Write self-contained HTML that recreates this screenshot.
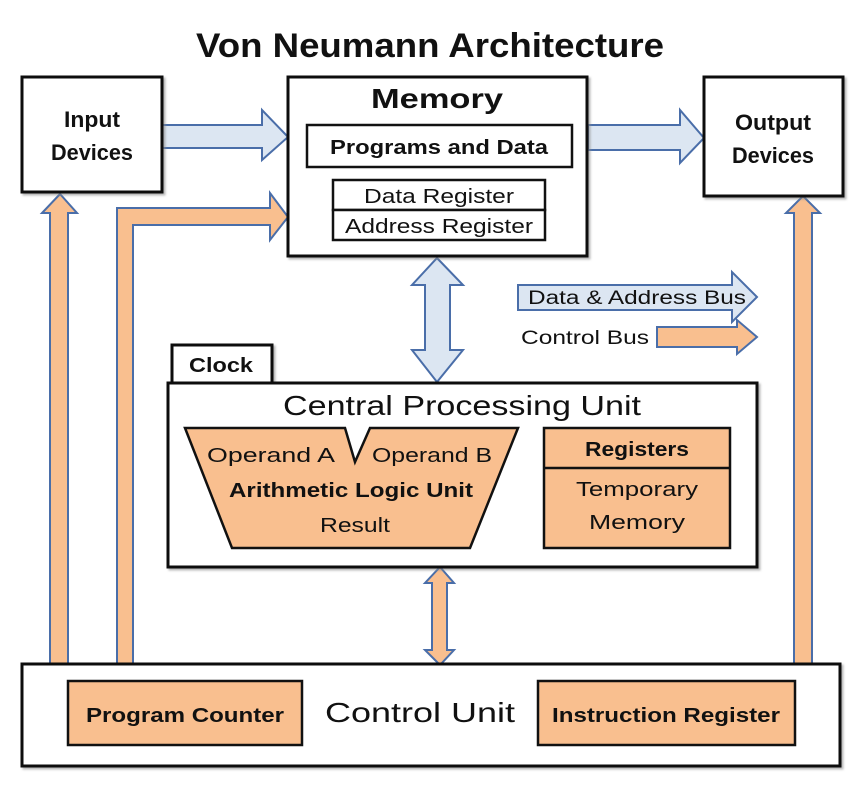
<!DOCTYPE html>
<html><head><meta charset="utf-8"><style>
html,body{margin:0;padding:0;background:#fff}
svg{display:block}
text{font-family:"Liberation Sans",sans-serif;fill:#111}
</style></head><body>
<svg width="860" height="792" viewBox="0 0 860 792" xmlns="http://www.w3.org/2000/svg">
<defs><filter id="sh" x="-5%" y="-5%" width="110%" height="110%"><feDropShadow dx="2" dy="2" stdDeviation="1" flood-color="#888" flood-opacity="0.6"/></filter></defs>
<text x="430" y="57" font-size="34" font-weight="bold" text-anchor="middle" textLength="468" lengthAdjust="spacingAndGlyphs">Von Neumann Architecture</text>

<g fill="#f9bf8f" stroke="#4a6ea9" stroke-width="2">
<polygon points="50,664 50,213 42,213 60,194 77,213 68,213 68,664"/>
<polygon points="117,664 117,208 270,208 270,193 288,217 270,240 270,225 133,225 133,664"/>
<polygon points="794,664 794,213 786,213 803,196 820,213 812,213 812,664"/>
<polygon points="432,583 425,583 440,567 454,583 447,583 447,650 454,650 440,665 425,650 432,650"/>
<polygon points="657,327 737,327 737,320 757,337 737,354 737,347 657,347"/>
</g>
<g fill="#dce6f2" stroke="#4a6ea9" stroke-width="2">
<polygon points="162,125 262,125 262,110 288,137 262,160 262,148 162,148"/>
<polygon points="588,125 680,125 680,110 704,138 680,163 680,150 588,150"/>
<polygon points="425,285 412,285 437,258 463,285 450,285 450,350 463,350 437,382 412,350 425,350"/>
<polygon points="518,285 732,285 732,272 757,297 732,322 732,310 518,310"/>
</g>

<g fill="#fff" stroke="#111" stroke-width="3" filter="url(#sh)">
<rect x="22" y="77" width="140" height="115"/>
<rect x="288" y="77" width="299" height="179"/>
<rect x="704" y="77" width="139" height="119"/>
<rect x="172" y="345" width="100" height="38"/>
<rect x="168" y="383" width="589" height="184"/>
<rect x="22" y="664" width="818" height="102"/>
</g>
<g fill="#fff" stroke="#111" stroke-width="2.5">
<rect x="307" y="125" width="265" height="42"/>
<rect x="333" y="180" width="212" height="30"/>
<rect x="333" y="210" width="212" height="30"/>
</g>
<g fill="#f9bf8f" stroke="#111" stroke-width="2.5">
<polygon points="185,428 345,428 355,462 370,428 518,428 470,548 232,548"/>
<rect x="544" y="428" width="186" height="120"/>
<line x1="544" y1="468" x2="730" y2="468"/>
<rect x="68" y="681" width="234" height="64"/>
<rect x="538" y="681" width="257" height="64"/>
</g>

<g font-size="21">
<text x="92" y="127" text-anchor="middle" font-weight="bold" font-size="22" textLength="56" lengthAdjust="spacingAndGlyphs">Input</text>
<text x="92" y="160" text-anchor="middle" font-weight="bold" font-size="22" textLength="82" lengthAdjust="spacingAndGlyphs">Devices</text>
<text x="773" y="130" text-anchor="middle" font-weight="bold" font-size="22" textLength="76" lengthAdjust="spacingAndGlyphs">Output</text>
<text x="773" y="163" text-anchor="middle" font-weight="bold" font-size="22" textLength="82" lengthAdjust="spacingAndGlyphs">Devices</text>
<text x="437" y="108" text-anchor="middle" font-weight="bold" font-size="28" textLength="132" lengthAdjust="spacingAndGlyphs">Memory</text>
<text x="439" y="154" text-anchor="middle" font-weight="bold" font-size="20" textLength="218" lengthAdjust="spacingAndGlyphs">Programs and Data</text>
<text x="439" y="203" text-anchor="middle" font-size="20" textLength="150" lengthAdjust="spacingAndGlyphs">Data Register</text>
<text x="439" y="233" text-anchor="middle" font-size="20" textLength="188" lengthAdjust="spacingAndGlyphs">Address Register</text>
<text x="637" y="304" text-anchor="middle" font-size="19" textLength="218" lengthAdjust="spacingAndGlyphs">Data &amp; Address Bus</text>
<text x="585" y="344" text-anchor="middle" font-size="19" textLength="128" lengthAdjust="spacingAndGlyphs">Control Bus</text>
<text x="221" y="372" text-anchor="middle" font-weight="bold" font-size="20" textLength="64" lengthAdjust="spacingAndGlyphs">Clock</text>
<text x="462" y="415" text-anchor="middle" font-size="28" textLength="358" lengthAdjust="spacingAndGlyphs">Central Processing Unit</text>
<text x="207" y="462" font-size="20" textLength="128" lengthAdjust="spacingAndGlyphs">Operand  A</text>
<text x="372" y="462" font-size="20" textLength="120" lengthAdjust="spacingAndGlyphs">Operand B</text>
<text x="351" y="497" text-anchor="middle" font-weight="bold" font-size="20" textLength="244" lengthAdjust="spacingAndGlyphs">Arithmetic Logic Unit</text>
<text x="355" y="532" text-anchor="middle" font-size="20" textLength="70" lengthAdjust="spacingAndGlyphs">Result</text>
<text x="637" y="456" text-anchor="middle" font-weight="bold" font-size="20" textLength="104" lengthAdjust="spacingAndGlyphs">Registers</text>
<text x="637" y="496" text-anchor="middle" font-size="20" textLength="122" lengthAdjust="spacingAndGlyphs">Temporary</text>
<text x="637" y="529" text-anchor="middle" font-size="20" textLength="96" lengthAdjust="spacingAndGlyphs">Memory</text>
<text x="185" y="722" text-anchor="middle" font-weight="bold" font-size="20" textLength="198" lengthAdjust="spacingAndGlyphs">Program Counter</text>
<text x="420" y="722" text-anchor="middle" font-size="28" textLength="190" lengthAdjust="spacingAndGlyphs">Control Unit</text>
<text x="666" y="722" text-anchor="middle" font-weight="bold" font-size="20" textLength="228" lengthAdjust="spacingAndGlyphs">Instruction Register</text>
</g>
</svg>
</body></html>
